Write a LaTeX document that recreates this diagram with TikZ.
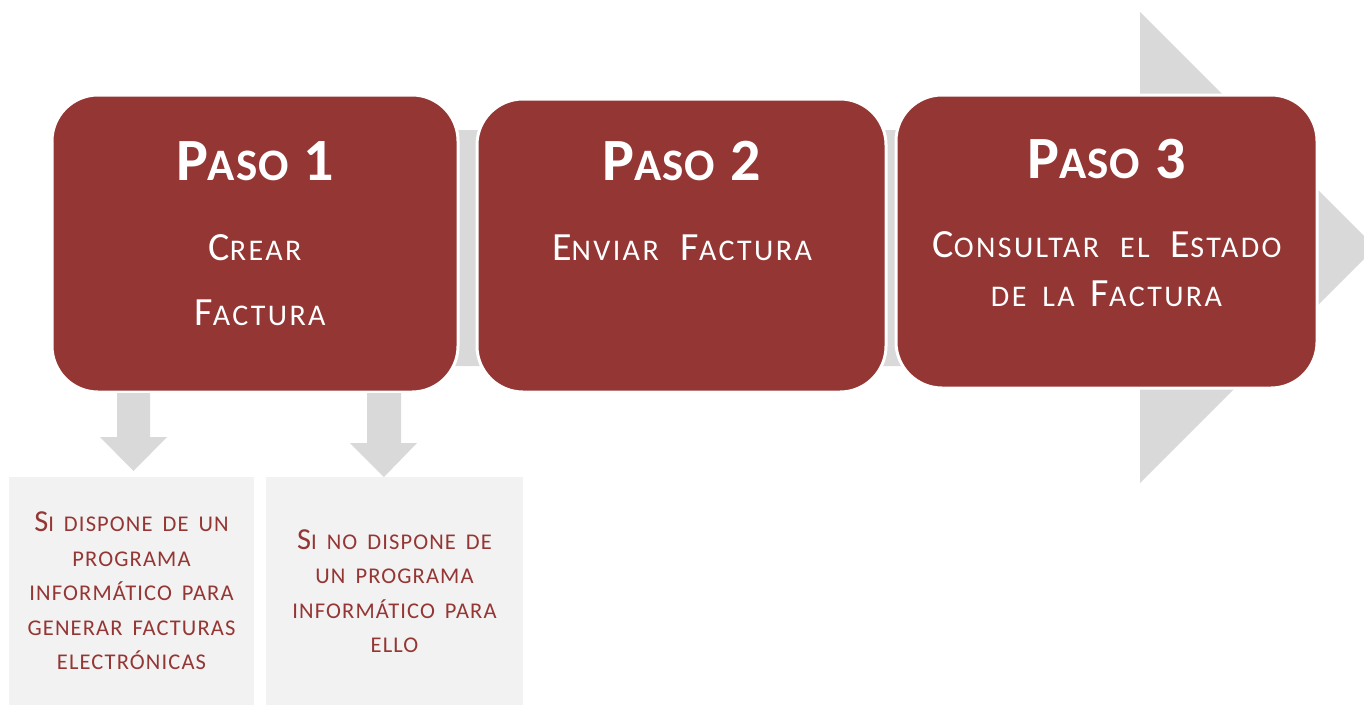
\documentclass[tikz,border=0pt]{standalone}
\usepackage{fontspec}
\setmainfont{Carlito}
\newfontfamily\tfont[LetterSpace=2]{Carlito}
\newfontfamily\sfontx[LetterSpace=8]{Carlito}
\newfontfamily\bfontx[LetterSpace=5]{Carlito}
\definecolor{boxred}{HTML}{943634}
\definecolor{arrgray}{HTML}{D9D9D9}
\definecolor{boxgray}{HTML}{F2F2F2}
\newcommand{\tsc}[1]{{\fontsize{45}{54}\selectfont #1}}
\newcommand{\msc}[1]{{\fontsize{30}{36}\selectfont #1}}
\newcommand{\bsc}[1]{{\fontsize{22.5}{28}\selectfont #1}}
\newcommand{\wideskip}{\spaceskip=10pt plus 1pt\relax}
\begin{document}
\begin{tikzpicture}[x=1pt,y=-1pt,
  stepbox/.style={fill=boxred, draw=white, line width=3pt, rounded corners=46pt, inner sep=0pt},
  infobox/.style={fill=boxgray, draw=none, inner sep=0pt, align=center, text=boxred,
    font=\bfontx\fontsize{30.5}{34.5}\selectfont\wideskip},
  titletext/.style={text=white, anchor=base, inner sep=0pt, font=\tfont\fontsize{60}{72}\selectfont\bfseries},
  subtext/.style={text=white, anchor=base, inner sep=0pt, font=\sfontx\fontsize{40}{48}\selectfont},
  grayshape/.style={fill=arrgray, draw=none}]
\useasboundingbox (0,0) rectangle (1364,704);
\clip (0,0) rectangle (1364,704);
% background process arrow
\fill[arrgray] (60,130) -- (1140,130) -- (1140,12) -- (1375.5,247.5) -- (1140,483) -- (1140,366) -- (60,366) -- cycle;
% step boxes
\node[stepbox, minimum width=406pt, minimum height=297pt] (s1) at (255,243.5) {};
\node[stepbox, minimum width=409pt, minimum height=293pt] (s2) at (681.5,245.5) {};
\node[stepbox, minimum width=421pt, minimum height=293pt] (s3) at (1106.5,241.5) {};
% step texts
\node[titletext] (t1) at (255,180) {P\tsc{ASO} 1};
\node[subtext] (c1a) at (255,260) {C\msc{REAR}};
\node[subtext] (c1b) at (260,325) {F\msc{ACTURA}};
\node[titletext] (t2) at (681.5,180) {P\tsc{ASO} 2};
\node[subtext] (c2) at (682,260) {E\msc{NVIAR}\hspace{22pt}F\msc{ACTURA}};
\node[titletext] (t3) at (1106.5,178) {P\tsc{ASO} 3};
\node[subtext] (c3a) at (1107,257) {C\msc{ONSULTAR}\hspace{21pt}\msc{EL}\hspace{21pt}E\msc{STADO}};
\node[subtext] (c3b) at (1106.5,306) {\msc{DE}\hspace{16pt}\msc{LA}\hspace{16pt}F\msc{ACTURA}};
% info boxes
\node[infobox, minimum width=245pt, minimum height=228pt] (a) at (131.5,591) {%
  S\bsc{I DISPONE DE UN}\\ \bsc{PROGRAMA}\\ \bsc{INFORMÁTICO PARA}\\ \bsc{GENERAR FACTURAS}\\ \bsc{ELECTRÓNICAS}};
\node[infobox, minimum width=257pt, minimum height=228pt] (b) at (394.5,591) {%
  S\bsc{I NO DISPONE DE}\\ \bsc{UN PROGRAMA}\\ \bsc{INFORMÁTICO PARA}\\ \bsc{ELLO}};
% down arrows from step 1 to the info boxes
\coordinate (d1) at (133.5,393);
\coordinate (d2) at (384,393);
\fill[grayshape] (d1) ++(-16.5,0) -- ++(33,0) -- ++(0,44) -- ++(17,0) -- (133.5,471) -- (100,437) -- ++(17,0) -- cycle;
\fill[grayshape] (d2) ++(-17,0) -- ++(34,0) -- ++(0,50) -- ++(16,0) -- (384,477) -- (350,443) -- ++(17,0) -- cycle;
\end{tikzpicture}
\end{document}
